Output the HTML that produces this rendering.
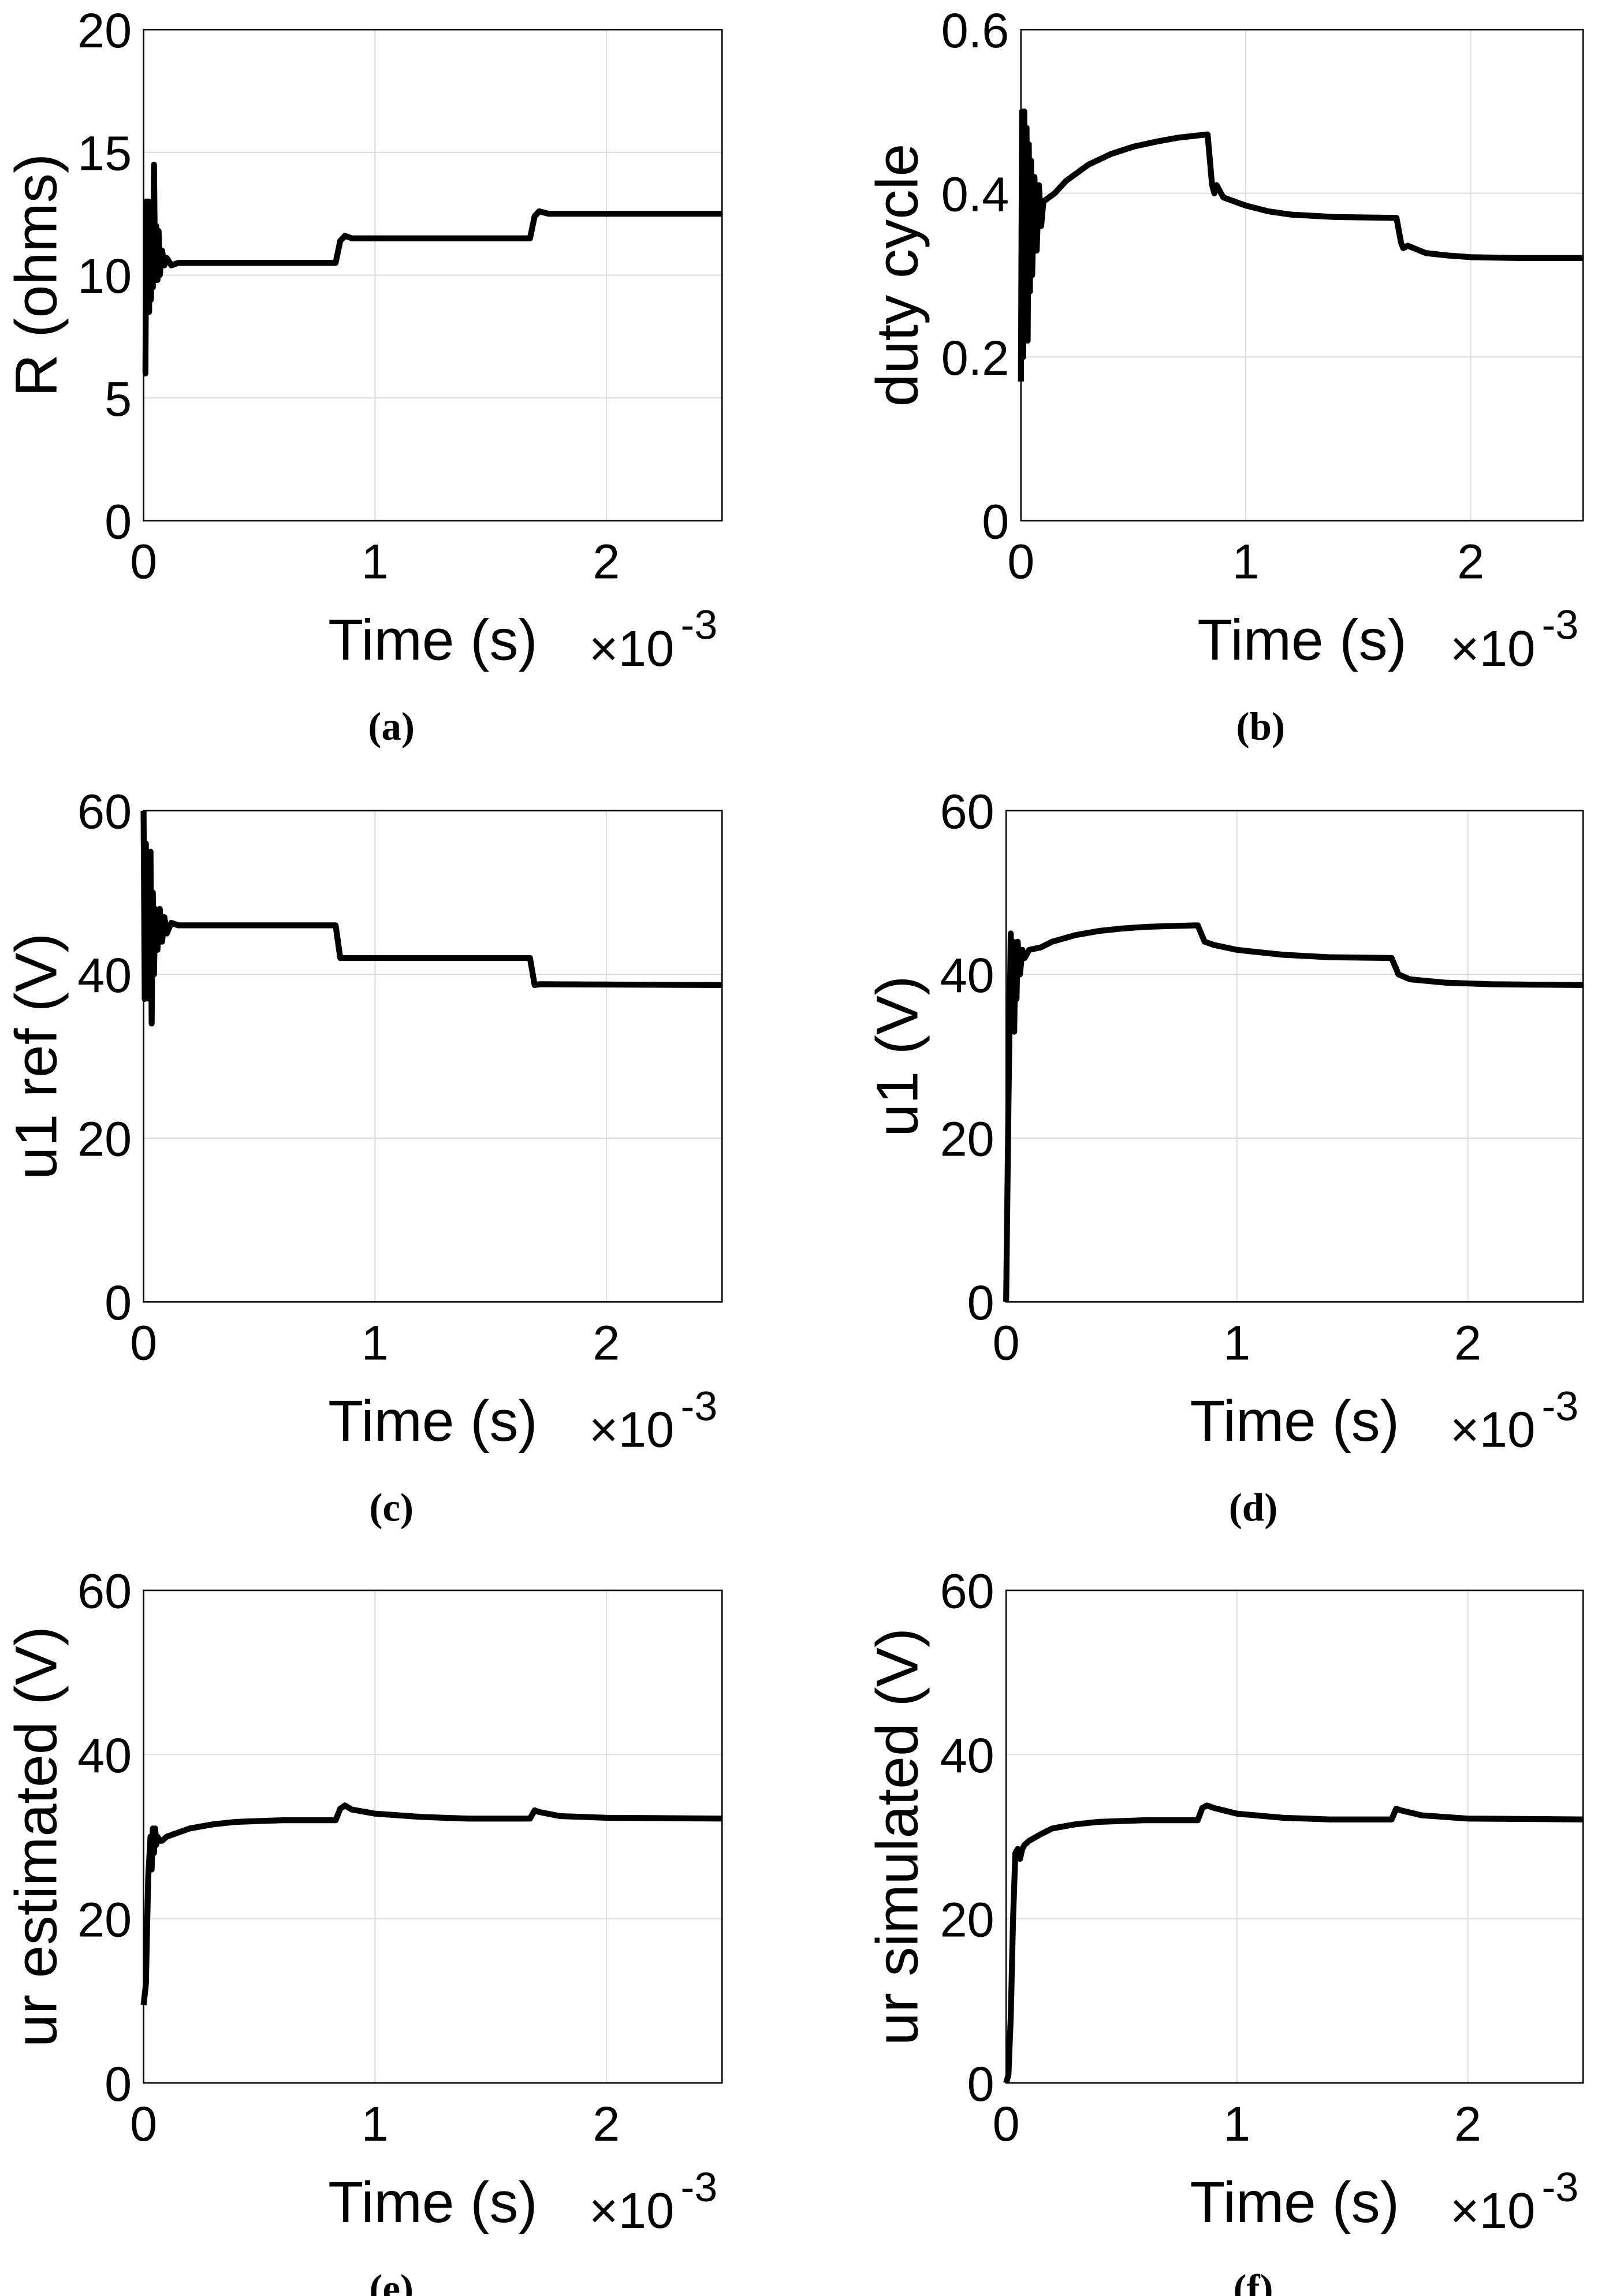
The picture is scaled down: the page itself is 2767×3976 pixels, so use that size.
<!DOCTYPE html>
<html><head><meta charset="utf-8"><style>
html,body{margin:0;padding:0;background:#fff;}
svg{display:block;}
text{font-family:"Liberation Sans",Arial,sans-serif;fill:#000;}
.cap{font-family:"Liberation Serif",serif;font-weight:bold;font-size:27px;}
</style></head><body>
<svg id="fig" width="2767" height="3976" viewBox="0 0 1080 1552" xmlns="http://www.w3.org/2000/svg"></svg>
<script>
// x axis (time, ms ×1e-3)
const xTicks = [0, 1, 2];
// panel (a) R (ohms)
const tA = [0,0.008,0.012,0.016,0.02,0.024,0.028,0.032,0.036,0.04,0.045,0.05,0.055,0.06,0.065,0.07,0.08,0.09,0.1,0.12,0.15,0.2,0.83,0.85,0.87,0.9,1.67,1.69,1.71,1.75,2.5];
const yA = [6,6,13,8.5,13,8.5,12.8,9,13,9.5,14.5,9.8,12,9.8,11.8,10,11,10.4,10.7,10.4,10.5,10.5,10.5,11.4,11.6,11.5,11.5,12.4,12.6,12.5,12.5];
// panel (b) duty cycle
const tB = [0,0.005,0.01,0.015,0.02,0.025,0.03,0.035,0.04,0.045,0.05,0.06,0.07,0.08,0.09,0.1,0.15,0.2,0.3,0.4,0.5,0.6,0.7,0.83,0.85,0.86,0.87,0.9,1.0,1.1,1.2,1.4,1.67,1.69,1.7,1.72,1.8,1.9,2.0,2.2,2.5];
const yB = [0.17,0.5,0.2,0.5,0.24,0.48,0.22,0.46,0.28,0.44,0.3,0.42,0.33,0.41,0.36,0.39,0.4,0.415,0.435,0.448,0.457,0.463,0.468,0.472,0.41,0.4,0.41,0.395,0.385,0.378,0.374,0.371,0.370,0.34,0.333,0.336,0.327,0.324,0.322,0.321,0.321];
const yTicksB = [0, 0.2, 0.4, 0.6];
// panel (c) u1 ref (V)
const tC = [0,0.005,0.01,0.015,0.02,0.025,0.03,0.035,0.04,0.045,0.05,0.06,0.07,0.08,0.09,0.1,0.12,0.15,0.83,0.85,0.87,1.67,1.69,1.71,2.5];
const yC = [60,37,56,40,52,37,55,34,50,40,48,43,48,44,47,45,46.3,46,46,42,42,42,38.7,38.8,38.7];
// panel (d) u1 (V)
const tD = [0,0.01,0.02,0.025,0.03,0.035,0.04,0.045,0.05,0.06,0.07,0.08,0.1,0.15,0.2,0.3,0.4,0.5,0.6,0.7,0.83,0.86,0.9,1.0,1.2,1.4,1.67,1.7,1.75,1.9,2.1,2.5];
const yD = [0,24,45,34,44,33,43,37,44,40,43,42,43,43.3,44,44.8,45.3,45.6,45.8,45.9,46,44,43.6,43,42.4,42.1,42,40,39.4,39,38.8,38.7];
// panel (e) ur estimated (V)
const tE = [0,0.01,0.02,0.03,0.035,0.04,0.045,0.05,0.055,0.06,0.07,0.08,0.1,0.15,0.2,0.3,0.4,0.5,0.6,0.7,0.83,0.85,0.87,0.9,1.0,1.2,1.4,1.67,1.69,1.71,1.8,2.0,2.5];
const yE = [9.5,12,25,30,26,31,28,31,29,30,29.5,29.5,30,30.5,31,31.5,31.8,31.9,32,32,32,33.4,33.8,33.3,32.8,32.4,32.2,32.2,33.2,33,32.5,32.3,32.2];
// panel (f) ur simulated (V)
const tF = [0,0.01,0.02,0.03,0.04,0.05,0.06,0.07,0.08,0.1,0.15,0.2,0.3,0.4,0.5,0.6,0.7,0.83,0.85,0.87,0.9,1.0,1.2,1.4,1.67,1.69,1.71,1.8,2.0,2.5];
const yF = [0,1,8,20,28,28.5,27.3,28.5,29,29.5,30.3,31,31.5,31.8,31.9,32,32,32,33.5,33.8,33.5,32.8,32.3,32.1,32.1,33.4,33.2,32.6,32.2,32.1];
const yTicks60 = [0,20,40,60];
const yTicksA = [0,5,10,15,20];

const NS = "http://www.w3.org/2000/svg";
const svg = document.getElementById('fig');
function el(tag, attrs, parent, txt){
  const e = document.createElementNS(NS, tag);
  for (const k in attrs) e.setAttribute(k, attrs[k]);
  if (txt !== undefined) e.textContent = txt;
  (parent||svg).appendChild(e); return e;
}
const panels = [
  {id:'a', x0:97, x1:488, y0:20, y1:352, ymax:20, ticks:yTicksA, t:tA, v:yA, lab:'R (ohms)', lx:25},
  {id:'b', x0:690, x1:1070, y0:20, y1:352, ymax:0.6, ticks:yTicksB, t:tB, v:yB, lab:'duty cycle', lx:607},
  {id:'c', x0:97, x1:488, y0:548, y1:880, ymax:60, ticks:yTicks60, t:tC, v:yC, lab:'u1 ref (V)', lx:25},
  {id:'d', x0:680, x1:1070, y0:548, y1:880, ymax:60, ticks:yTicks60, t:tD, v:yD, lab:'u1 (V)', lx:607},
  {id:'e', x0:97, x1:488, y0:1075, y1:1408, ymax:60, ticks:yTicks60, t:tE, v:yE, lab:'ur estimated (V)', lx:25},
  {id:'f', x0:680, x1:1070, y0:1075, y1:1408, ymax:60, ticks:yTicks60, t:tF, v:yF, lab:'ur simulated (V)', lx:607}
];
panels.forEach(p=>{
  const g = el('g', {});
  
  
  const sx = t => p.x0 + (t/2.5)*(p.x1-p.x0);
  const sy = v => p.y1 - (v/p.ymax)*(p.y1-p.y0);
  xTicks.forEach(t=>{
    if (t>0){ const l = el('line',{x1:sx(t),x2:sx(t),y1:p.y0,y2:p.y1,stroke:'#dcdcdc','stroke-width':0.8},g);
        }
    const tx = el('text',{x:sx(t),y:p.y1+39,'font-size':33,'text-anchor':'middle'},g,String(t));
     
  });
  p.ticks.forEach(v=>{
    if (v>0 && v<p.ymax){ const l = el('line',{x1:p.x0,x2:p.x1,y1:sy(v),y2:sy(v),stroke:'#dcdcdc','stroke-width':0.8},g);
        }
    const tx = el('text',{x:p.x0-8,y:sy(v)+12,'font-size':33,'text-anchor':'end'},g,String(v));
     
  });
  const box = el('rect',{x:p.x0,y:p.y0,width:p.x1-p.x0,height:p.y1-p.y0,fill:'none',stroke:'#000','stroke-width':1},g);
   
  let d = '';
  p.t.forEach((t,i)=>{ d += (i?'L':'M') + sx(t).toFixed(2) + ',' + sy(p.v[i]).toFixed(2); });
  const path = el('path',{d:d,fill:'none',stroke:'#000','stroke-width':4,'stroke-linejoin':'round'},g);
  
  
  const xl = el('text',{x:(p.x0+p.x1)/2,y:p.y1+94,'font-size':39,'text-anchor':'middle'},g,'Time (s)');
   
  const ex = el('text',{x:p.x1-90,y:p.y1+98,'font-size':34},g,'×10');
   
  const ex2 = el('text',{x:p.x1-28,y:p.y1+80,'font-size':28},g,'-3');
   
  const cy = (p.y0+p.y1)/2;
  const yl = el('text',{x:0,y:0,'font-size':40,'text-anchor':'middle',transform:`translate(${p.lx+13},${cy}) rotate(-90)`},g,p.lab);
   
  const cap = el('text',{x:(p.x0+p.x1)/2 - 28,y:p.y1+148,'text-anchor':'middle','class':'cap'},g,'('+p.id+')');
   
});
</script>
</body></html>
